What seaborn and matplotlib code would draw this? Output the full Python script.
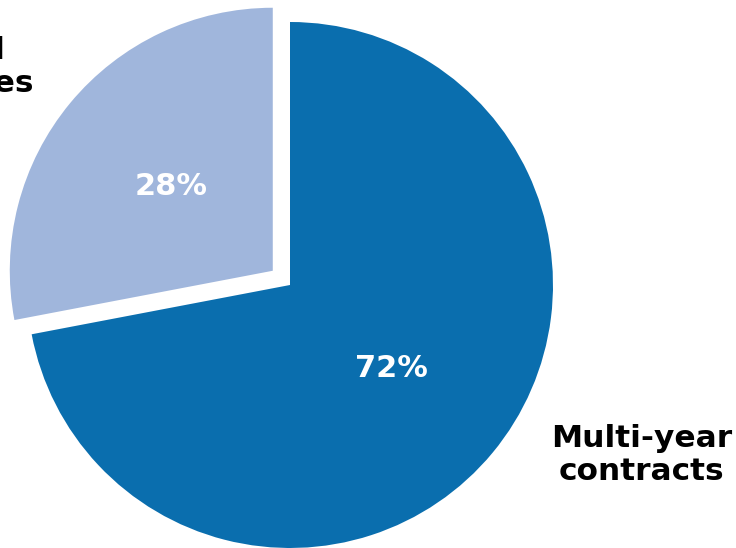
import matplotlib
matplotlib.use("Agg")
import matplotlib.pyplot as plt
import seaborn as sns

# Share of spending by purchase type
categories = ["Multi-year\ncontracts", "Annual\npurchases"]
shares = [72, 28]
colors = ["#0A6EAE", "#A0B6DC"]
explode = [0.0, 0.085]

sns.set_theme(style="white")
plt.rcParams["font.family"] = ["DejaVu Sans"]

fig = plt.figure(figsize=(7.36, 5.48), dpi=100)
ax = fig.add_axes([0, 0, 1, 1])

wedges, _, pct_texts = ax.pie(
    shares,
    colors=colors,
    explode=explode,
    startangle=90,
    counterclock=False,
    autopct="%d%%",
    pctdistance=0.5,
    labels=None,
    wedgeprops=dict(linewidth=0),
    textprops=dict(color="white", fontsize=22, fontweight="bold"),
)

# Category labels placed beside their slices
ax.text(1.338, -0.646, categories[0], ha="center", va="center",
        multialignment="center", fontsize=22.5, fontweight="bold",
        color="black", linespacing=1.15)
ax.text(-0.973, 0.829, categories[1], ha="right", va="center",
        multialignment="center", fontsize=22.5, fontweight="bold",
        color="black", linespacing=1.15)

ax.set_xlim(-290 / 263, 446 / 263)
ax.set_ylim(-1.0, 285 / 263)
ax.set_aspect("auto")
ax.axis("off")

fig.savefig("out.png", dpi=100)
